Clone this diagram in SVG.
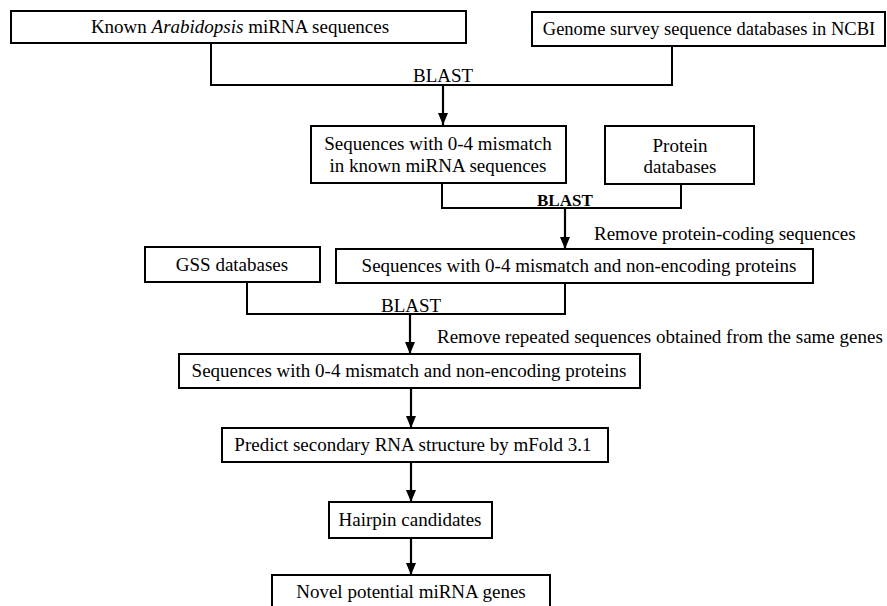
<svg xmlns="http://www.w3.org/2000/svg" width="887" height="606" viewBox="0 0 887 606">
<defs>
<marker id="arr" viewBox="0 0 12 10" refX="12" refY="5" markerWidth="12" markerHeight="10" markerUnits="userSpaceOnUse" orient="auto">
<path d="M0,0 L12,5 L0,10 Z" fill="#000"/>
</marker>
</defs>
<style>
rect{fill:#fff;stroke:#000;stroke-width:2}
text{font-family:"Liberation Serif","Times New Roman",serif;font-size:19px;fill:#000}
.c{text-anchor:middle}
.ln{fill:none;stroke:#000;stroke-width:2}
.ar{fill:none;stroke:#000;stroke-width:2.2}
</style>
<rect x="0" y="0" width="887" height="606" style="fill:#fff;stroke:none"/>
<g id="connectors">
<polyline class="ln" points="211,43 211,85 672,85 672,46"/>
<line class="ar" x1="443" y1="85" x2="443" y2="125" marker-end="url(#arr)"/>
<polyline class="ln" points="442,183 442,208 681,208 681,184"/>
<line class="ar" x1="565" y1="208" x2="565" y2="249" marker-end="url(#arr)"/>
<polyline class="ln" points="247,282 247,314 565,314 565,283"/>
<line class="ar" x1="410" y1="314" x2="410" y2="354" marker-end="url(#arr)"/>
<line class="ar" x1="411" y1="388" x2="411" y2="428" marker-end="url(#arr)"/>
<line class="ar" x1="411" y1="462" x2="411" y2="502" marker-end="url(#arr)"/>
<line class="ar" x1="411" y1="538" x2="411" y2="575" marker-end="url(#arr)"/>
<text x="413" y="82">BLAST</text>
<text x="537" y="206" style="font-weight:bold;font-size:17px">BLAST</text>
<text x="381" y="312">BLAST</text>
<text x="594" y="240">Remove protein-coding sequences</text>
<text x="437" y="343">Remove repeated sequences obtained from the same genes</text>
</g>
<g id="known">
<rect x="11" y="11" width="455" height="32"/>
<text class="c" x="240" y="33">Known <tspan font-style="italic">Arabidopsis</tspan> miRNA sequences</text>
</g>
<g id="gss-ncbi">
<rect x="532" y="12" width="353" height="34"/>
<text class="c" x="709" y="35" style="font-size:18.5px">Genome survey sequence databases in NCBI</text>
</g>
<g id="mismatch">
<rect x="311" y="126" width="255" height="57"/>
<text class="c" x="438" y="150">Sequences with 0-4 mismatch</text>
<text class="c" x="438" y="172">in known miRNA sequences</text>
</g>
<g id="protein">
<rect x="605" y="126" width="149" height="58"/>
<text class="c" x="680" y="152">Protein</text>
<text class="c" x="680" y="173">databases</text>
</g>
<g id="gss">
<rect x="145" y="247" width="175" height="35"/>
<text class="c" x="232" y="271">GSS databases</text>
</g>
<g id="nonenc1">
<rect x="336" y="249" width="477" height="34"/>
<text class="c" x="579" y="272">Sequences with 0-4 mismatch and non-encoding proteins</text>
</g>
<g id="nonenc2">
<rect x="179" y="354" width="461" height="34"/>
<text class="c" x="409" y="377">Sequences with 0-4 mismatch and non-encoding proteins</text>
</g>
<g id="predict">
<rect x="222" y="428" width="386" height="34"/>
<text class="c" x="413" y="451">Predict secondary RNA structure by mFold 3.1</text>
</g>
<g id="hairpin">
<rect x="329" y="502" width="163" height="36"/>
<text class="c" x="410" y="526">Hairpin candidates</text>
</g>
<g id="novel">
<rect x="272" y="575" width="278" height="40"/>
<text class="c" x="411" y="598">Novel potential miRNA genes</text>
</g>
</svg>
